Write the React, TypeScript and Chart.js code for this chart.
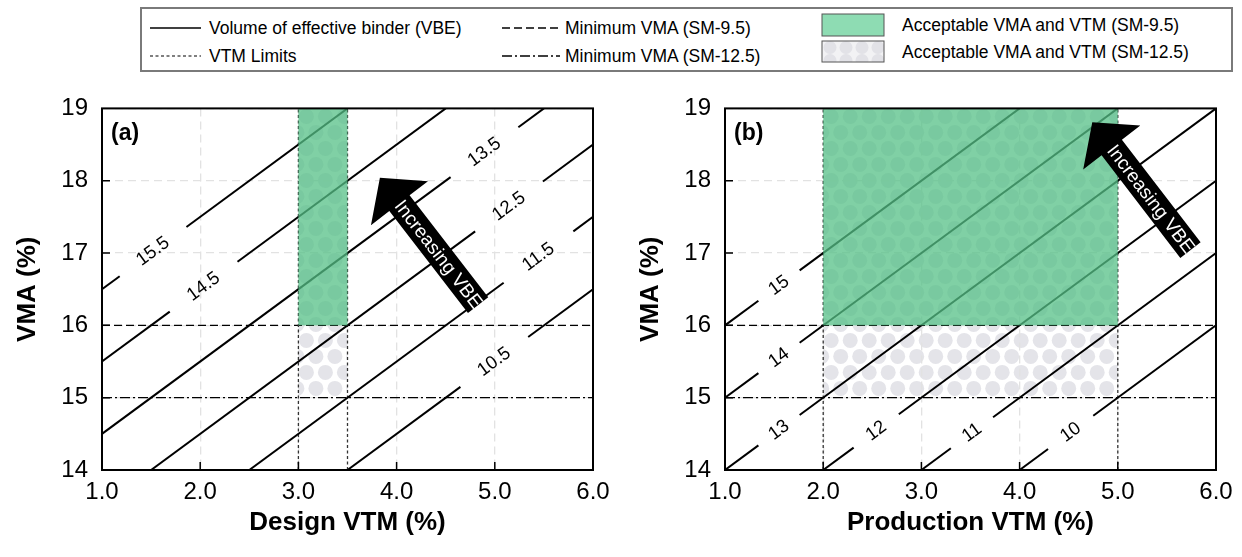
import React, { useEffect, useRef } from "react";
import { Chart, registerables } from "chart.js";
Chart.register(...registerables);

const FONT = "'Liberation Sans', Arial, Helvetica, sans-serif";

// Axis ranges / ticks
const vtmRange = [1, 6];
const vmaRange = [14, 19];
const vtmTickStep = 1;
const vmaTickStep = 1;

// Minimum VMA criteria
const minVmaSM95 = 16;
const minVmaSM125 = 15;

// Panel (a) - design
const vbeLinesA = [10.5, 11.5, 12.5, 13.5, 14.5, 15.5];
const vbeLabelsA = ["10.5", "11.5", "12.5", "13.5", "14.5", "15.5"];
const labelGapFromA = [4.65, 5.09, 4.8, 4.55, 1.69, 1.18];
const labelGapToA = [5.34, 5.8, 5.49, 5.24, 2.38, 1.86];
const vtmLimitsA = [3.0, 3.5];
const arrowTailA = [4.83, 16.28];
const arrowTipA = [3.83, 18.04];

// Panel (b) - production
const vbeLinesB = [10, 11, 12, 13, 14, 15];
const vbeLabelsB = ["10", "11", "12", "13", "14", "15"];
const labelGapFromB = [4.29, 3.3, 2.31, 1.34, 1.34, 1.34];
const labelGapToB = [4.75, 3.73, 2.77, 1.76, 1.76, 1.76];
const vtmLimitsB = [2.0, 5.0];
const arrowTailB = [5.74, 17.04];
const arrowTipB = [4.74, 18.81];

type Panel = {
  letter: string;
  xTitle: string;
  vbe: number[];
  labels: string[];
  gapFrom: number[];
  gapTo: number[];
  limits: number[];
  tail: number[];
  tip: number[];
};

const panelA: Panel = {
  letter: "(a)",
  xTitle: "Design VTM (%)",
  vbe: vbeLinesA,
  labels: vbeLabelsA,
  gapFrom: labelGapFromA,
  gapTo: labelGapToA,
  limits: vtmLimitsA,
  tail: arrowTailA,
  tip: arrowTipA,
};
const panelB: Panel = {
  letter: "(b)",
  xTitle: "Production VTM (%)",
  vbe: vbeLinesB,
  labels: vbeLabelsB,
  gapFrom: labelGapFromB,
  gapTo: labelGapToB,
  limits: vtmLimitsB,
  tail: arrowTailB,
  tip: arrowTipB,
};

const TICK_FONT = 24;
const TITLE_FONT = 26;

function buildDatasets(p: Panel) {
  const ds: any[] = [];
  const lineDs = (data: any[], extra: any) => ({
    data,
    showLine: true,
    pointRadius: 0,
    fill: false,
    borderColor: "#000",
    borderWidth: 2,
    ...extra,
  });
  p.vbe.forEach((c, i) => {
    const x0 = Math.max(vtmRange[0], vmaRange[0] - c);
    const x1 = Math.min(vtmRange[1], vmaRange[1] - c);
    const segs = [
      [x0, p.gapFrom[i]],
      [p.gapTo[i], x1],
    ];
    segs.forEach(([a, b]) => {
      if (b > a)
        ds.push(
          lineDs(
            [
              { x: a, y: a + c },
              { x: b, y: b + c },
            ],
            {}
          )
        );
    });
  });
  p.limits.forEach((v) =>
    ds.push(
      lineDs(
        [
          { x: v, y: vmaRange[0] },
          { x: v, y: vmaRange[1] },
        ],
        { borderColor: "#333", borderWidth: 1.3, borderDash: [3, 2.5] }
      )
    )
  );
  ds.push(
    lineDs(
      [
        { x: vtmRange[0], y: minVmaSM95 },
        { x: vtmRange[1], y: minVmaSM95 },
      ],
      { borderWidth: 1.3, borderDash: [8, 4] }
    )
  );
  ds.push(
    lineDs(
      [
        { x: vtmRange[0], y: minVmaSM125 },
        { x: vtmRange[1], y: minVmaSM125 },
      ],
      { borderWidth: 1.3, borderDash: [10, 3, 2, 3] }
    )
  );
  return ds;
}

function panelPlugin(p: Panel) {
  return {
    id: "panelDecor",
    beforeDraw(chart: any) {
      const { ctx, scales } = chart;
      const x = scales.x,
        y = scales.y;
      const xl = x.getPixelForValue(p.limits[0]);
      const xr = x.getPixelForValue(p.limits[1]);
      const yt = y.getPixelForValue(vmaRange[1]);
      const yb = y.getPixelForValue(minVmaSM125);
      ctx.save();
      ctx.beginPath();
      ctx.rect(xl, yt, xr - xl, yb - yt);
      ctx.clip();
      ctx.fillStyle = "#e4e4e9";
      const dx = 19,
        dy = 16,
        r = 7.5;
      let row = 0;
      for (let cy = yt + 8; cy < yb + r; cy += dy, row++) {
        const off = row % 2 ? dx / 2 : 0;
        for (let cx = xl + 8 + off - dx; cx < xr + r; cx += dx) {
          ctx.beginPath();
          ctx.arc(cx, cy, r, 0, Math.PI * 2);
          ctx.fill();
        }
      }
      ctx.restore();
    },
    afterDatasetsDraw(chart: any) {
      const { ctx, chartArea, scales } = chart;
      const x = scales.x,
        y = scales.y;
      // green acceptable zone overlay
      const xl = x.getPixelForValue(p.limits[0]);
      const xr = x.getPixelForValue(p.limits[1]);
      const yt = y.getPixelForValue(vmaRange[1]);
      const ym = y.getPixelForValue(minVmaSM95);
      ctx.save();
      ctx.fillStyle = "rgba(86,192,135,0.75)";
      ctx.fillRect(xl, yt, xr - xl, ym - yt);
      ctx.restore();

      // labels on VBE lines
      ctx.save();
      ctx.fillStyle = "#000";
      ctx.font = `18.5px ${FONT}`;
      ctx.textAlign = "center";
      ctx.textBaseline = "middle";
      p.vbe.forEach((c, i) => {
        const m = (p.gapFrom[i] + p.gapTo[i]) / 2;
        const px = x.getPixelForValue(m);
        const py = y.getPixelForValue(m + c);
        const ax = x.getPixelForValue(m + 1) - px;
        const ay = y.getPixelForValue(m + 1 + c) - py;
        const ang = Math.atan2(ay, ax);
        ctx.save();
        ctx.translate(px, py);
        ctx.rotate(ang);
        ctx.fillText(p.labels[i], 0, 0);
        ctx.restore();
      });
      ctx.restore();

      // arrow
      const tx = x.getPixelForValue(p.tail[0]);
      const ty = y.getPixelForValue(p.tail[1]);
      const hx = x.getPixelForValue(p.tip[0]);
      const hy = y.getPixelForValue(p.tip[1]);
      const len = Math.hypot(hx - tx, hy - ty);
      const ux = (hx - tx) / len,
        uy = (hy - ty) / len;
      const nx = -uy,
        ny = ux;
      const headLen = 32,
        headHalf = 36,
        shaftHalf = 12.8;
      const bx = hx - ux * headLen,
        by = hy - uy * headLen;
      ctx.save();
      ctx.fillStyle = "#000";
      ctx.beginPath();
      ctx.moveTo(tx + nx * shaftHalf, ty + ny * shaftHalf);
      ctx.lineTo(bx + nx * shaftHalf, by + ny * shaftHalf);
      ctx.lineTo(bx + nx * headHalf, by + ny * headHalf);
      ctx.lineTo(hx, hy);
      ctx.lineTo(bx - nx * headHalf, by - ny * headHalf);
      ctx.lineTo(bx - nx * shaftHalf, by - ny * shaftHalf);
      ctx.lineTo(tx - nx * shaftHalf, ty - ny * shaftHalf);
      ctx.closePath();
      ctx.fill();
      const mx = (tx + bx) / 2,
        my = (ty + by) / 2;
      ctx.translate(mx, my);
      ctx.rotate(Math.atan2(ty - hy, tx - hx));
      ctx.fillStyle = "#fff";
      ctx.font = `19px ${FONT}`;
      ctx.textAlign = "center";
      ctx.textBaseline = "middle";
      ctx.fillText("Increasing VBE", 0, 1);
      ctx.restore();

      // panel letter
      ctx.save();
      ctx.fillStyle = "#000";
      ctx.font = `bold 23px ${FONT}`;
      ctx.textAlign = "left";
      ctx.textBaseline = "middle";
      ctx.fillText(p.letter, chartArea.left + 9, chartArea.top + 25);
      ctx.restore();

      // frame + inward ticks
      ctx.save();
      ctx.strokeStyle = "#000";
      ctx.lineWidth = 2;
      ctx.strokeRect(
        chartArea.left,
        chartArea.top,
        chartArea.right - chartArea.left,
        chartArea.bottom - chartArea.top
      );
      ctx.lineWidth = 1.5;
      ctx.beginPath();
      x.ticks.forEach((t: any) => {
        const px = x.getPixelForValue(t.value);
        if (px <= chartArea.left + 1 || px >= chartArea.right - 1) return;
        ctx.moveTo(px, chartArea.bottom);
        ctx.lineTo(px, chartArea.bottom - 8);
      });
      y.ticks.forEach((t: any) => {
        const py = y.getPixelForValue(t.value);
        if (py <= chartArea.top + 1 || py >= chartArea.bottom - 1) return;
        ctx.moveTo(chartArea.left, py);
        ctx.lineTo(chartArea.left + 8, py);
      });
      ctx.stroke();
      ctx.restore();
    },
  };
}

function PanelChart({ p, left, width }: { p: Panel; left: number; width: number }) {
  const ref = useRef<HTMLCanvasElement>(null);
  useEffect(() => {
    if (!ref.current) return;
    const chart = new Chart(ref.current, {
      type: "scatter",
      data: { datasets: buildDatasets(p) },
      plugins: [panelPlugin(p)],
      options: {
        responsive: false,
        maintainAspectRatio: false,
        animation: false,
        events: [],
        layout: { padding: { top: 20, right: width - 102 - 491, left: 0, bottom: 0 } },
        plugins: { legend: { display: false }, tooltip: { enabled: false } },
        scales: {
          x: {
            type: "linear",
            min: vtmRange[0],
            max: vtmRange[1],
            ticks: {
              stepSize: vtmTickStep,
              color: "#000",
              font: { family: FONT, size: TICK_FONT },
              padding: 8,
              callback: (v: any) => Number(v).toFixed(1),
            },
            grid: { color: "#e2e2e2", lineWidth: 1.3, drawTicks: false },
            border: { display: false, dash: [8, 5] },
            title: {
              display: true,
              text: p.xTitle,
              color: "#000",
              font: { family: FONT, size: TITLE_FONT, weight: "bold" },
              padding: { top: 0, bottom: 19 },
            },
            afterFit: (s: any) => {
              s.height = 87;
            },
          },
          y: {
            type: "linear",
            min: vmaRange[0],
            max: vmaRange[1],
            ticks: {
              stepSize: vmaTickStep,
              color: "#000",
              font: { family: FONT, size: TICK_FONT },
              padding: 14,
            },
            grid: { color: "#e2e2e2", lineWidth: 1.3, drawTicks: false },
            border: { display: false, dash: [8, 5] },
            title: {
              display: true,
              text: "VMA (%)",
              color: "#000",
              font: { family: FONT, size: TITLE_FONT, weight: "bold" },
              padding: { top: 12, bottom: 0 },
            },
            afterFit: (s: any) => {
              s.width = 102;
            },
          },
        },
      } as any,
    });
    return () => chart.destroy();
  }, [p, width]);
  return (
    <canvas
      ref={ref}
      width={width}
      height={477}
      style={{ position: "absolute", left, top: 80, width, height: 477 }}
    />
  );
}

function Legend() {
  const txt: React.CSSProperties = {
    position: "absolute",
    fontFamily: FONT,
    fontSize: 17.5,
    color: "#000",
    whiteSpace: "nowrap",
    lineHeight: "20px",
  };
  return (
    <>
      <div
        style={{
          position: "absolute",
          left: 140,
          top: 7,
          width: 1093,
          height: 65,
          border: "2px solid #7a7a7a",
          boxSizing: "border-box",
          background: "#fff",
        }}
      />
      <svg
        width={1242}
        height={80}
        style={{ position: "absolute", left: 0, top: 0 }}
      >
        <defs>
          <pattern id="dots" width="16" height="13" patternUnits="userSpaceOnUse" x="822" y="41">
            <rect width="16" height="13" fill="#f2f2f4" />
            <circle cx="8" cy="6.5" r="6.5" fill="#e2e2e7" />
          </pattern>
        </defs>
        <line x1={150} y1={28} x2={201} y2={28} stroke="#000" strokeWidth={1.5} />
        <line x1={150} y1={56} x2={201} y2={56} stroke="#000" strokeWidth={1.2} strokeDasharray="3 2.5" />
        <line x1={502} y1={28} x2={560} y2={28} stroke="#000" strokeWidth={1.3} strokeDasharray="8 4" />
        <line x1={502} y1={56} x2={560} y2={56} stroke="#000" strokeWidth={1.3} strokeDasharray="10 3 2 3" />
        <rect x={822} y={14} width={62} height={22} fill="#8edcb3" stroke="#555" strokeWidth={1} />
        <rect x={822} y={41} width={62} height={21} fill="url(#dots)" stroke="#555" strokeWidth={1} />
      </svg>
      <div style={{ ...txt, left: 209, top: 18 }}>Volume of effective binder (VBE)</div>
      <div style={{ ...txt, left: 209, top: 46 }}>VTM Limits</div>
      <div style={{ ...txt, left: 565, top: 18 }}>Minimum VMA (SM-9.5)</div>
      <div style={{ ...txt, left: 565, top: 46 }}>Minimum VMA (SM-12.5)</div>
      <div style={{ ...txt, left: 902, top: 15 }}>Acceptable VMA and VTM (SM-9.5)</div>
      <div style={{ ...txt, left: 902, top: 42 }}>Acceptable VMA and VTM (SM-12.5)</div>
    </>
  );
}

export default function App() {
  return (
    <div
      style={{
        position: "fixed",
        left: 0,
        top: 0,
        width: 1242,
        height: 557,
        background: "#fff",
        overflow: "hidden",
      }}
    >
      <Legend />
      <PanelChart p={panelA} left={0} width={620} />
      <PanelChart p={panelB} left={623} width={619} />
    </div>
  );
}
